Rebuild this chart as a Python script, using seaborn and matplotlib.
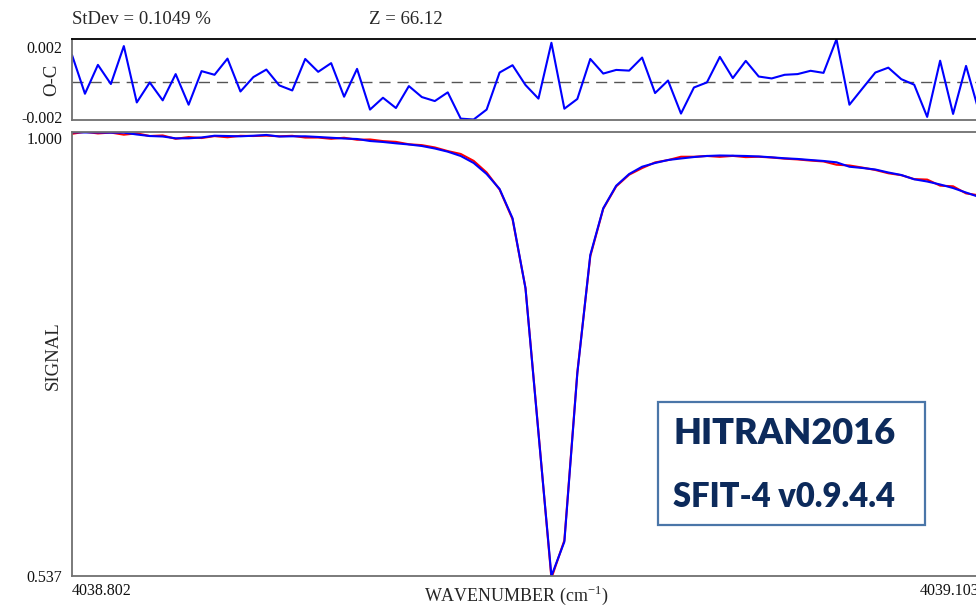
import numpy as np
import pandas as pd
import matplotlib.pyplot as plt
import matplotlib.patches as patches
import seaborn as sns

# spectral window (cm-1), 71 evenly spaced samples
WN_START = 4038.802
WN_END = 4039.103
N_POINTS = 71

# observed signal (blue)
observed = [
    0.9994, 0.9992, 0.9992, 0.9990, 0.9990, 0.9971, 0.9955, 0.9950, 0.9931, 0.9931,
    0.9940, 0.9958, 0.9955, 0.9952, 0.9958, 0.9966, 0.9950, 0.9952, 0.9952, 0.9945,
    0.9937, 0.9929, 0.9924, 0.9903, 0.9893, 0.9879, 0.9867, 0.9851, 0.9825, 0.9792,
    0.9747, 0.9674, 0.9559, 0.9403, 0.9098, 0.8368, 0.6860, 0.5370, 0.5727, 0.7482,
    0.8715, 0.9202, 0.9437, 0.9559, 0.9635, 0.9674, 0.9705, 0.9721, 0.9736, 0.9747,
    0.9752, 0.9750, 0.9747, 0.9742, 0.9733, 0.9723, 0.9716, 0.9705, 0.9695, 0.9681,
    0.9635, 0.9622, 0.9606, 0.9575, 0.9549, 0.9504, 0.9481, 0.9450, 0.9413, 0.9366,
    0.9320,
]

# calculated signal (red)
calculated = [
    0.9978, 0.9999, 0.9982, 0.9991, 0.9969, 0.9983, 0.9955, 0.9961, 0.9926, 0.9944,
    0.9934, 0.9954, 0.9942, 0.9957, 0.9955, 0.9959, 0.9952, 0.9957, 0.9939, 0.9939,
    0.9926, 0.9937, 0.9916, 0.9919, 0.9902, 0.9894, 0.9869, 0.9860, 0.9836, 0.9798,
    0.9768, 0.9696, 0.9575, 0.9398, 0.9088, 0.8370, 0.6870, 0.5347, 0.5742, 0.7492,
    0.8702, 0.9197, 0.9430, 0.9552, 0.9621, 0.9680, 0.9704, 0.9739, 0.9739, 0.9747,
    0.9738, 0.9748, 0.9735, 0.9739, 0.9731, 0.9719, 0.9711, 0.9699, 0.9690, 0.9656,
    0.9648, 0.9626, 0.9601, 0.9567, 0.9547, 0.9506, 0.9501, 0.9438, 0.9431, 0.9357,
    0.9337,
]

# O-C residuals (x 1e-3)
residual_e3 = [
    1.56, -0.67, 0.99, -0.11, 2.07, -1.17, -0.02, -1.05, 0.46, -1.30,
    0.63, 0.42, 1.35, -0.54, 0.29, 0.72, -0.19, -0.48, 1.33, 0.59,
    1.09, -0.84, 0.76, -1.58, -0.90, -1.49, -0.23, -0.86, -1.09, -0.59,
    -2.10, -2.15, -1.58, 0.55, 0.97, -0.17, -0.95, 2.26, -1.53, -0.97,
    1.33, 0.49, 0.70, 0.66, 1.41, -0.63, 0.09, -1.81, -0.31, -0.02,
    1.45, 0.23, 1.22, 0.32, 0.21, 0.42, 0.46, 0.65, 0.53, 2.46,
    -1.30, -0.37, 0.55, 0.83, 0.17, -0.15, -2.00, 1.23, -1.83, 0.93,
    -1.70,
]

stdev_text = "StDev = 0.1049 %"
z_text = "Z = 66.12"
box_lines = ["HITRAN2016", "SFIT-4 v0.9.4.4"]

df = pd.DataFrame({
    "wavenumber": np.linspace(WN_START, WN_END, N_POINTS),
    "observed": observed,
    "calculated": calculated,
    "oc": np.array(residual_e3) * 1e-3,
})

sns.set_style("white")
plt.rcParams['font.family'] = ['Liberation Serif', 'DejaVu Serif']
plt.rcParams['mathtext.fontset'] = 'custom'
plt.rcParams['mathtext.rm'] = 'Liberation Serif'

W, H = 976, 606
fig = plt.figure(figsize=(W / 100, H / 100), dpi=100)

x0, x1 = 72, 979
ax_r = fig.add_axes([x0 / W, 1 - 119.5 / H, (x1 - x0) / W, 80.2 / H])
ax = fig.add_axes([x0 / W, 1 - 576 / H, (x1 - x0) / W, 444.3 / H])

# residual panel
ax_r.axhline(0, color="#555555", lw=1.0, dashes=(8, 5))
sns.lineplot(data=df, x="wavenumber", y="oc", ax=ax_r, color="#0000ff",
             lw=1.5, sort=False, estimator=None)
ax_r.set_xlim(WN_START, WN_END)
ax_r.set_ylim(-0.00215, 0.00246)
ax_r.set_yticks([-0.002, 0.002])
ax_r.set_yticklabels(["-0.002", "0.002"])
ax_r.set_xticks([])
ax_r.set_xlabel("")
ax_r.set_ylabel("O-C", fontsize=13.5)
ax_r.yaxis.set_label_coords(-0.0125, 0.5)

# main spectrum panel
sns.lineplot(data=df, x="wavenumber", y="calculated", ax=ax, color="#ff0000",
             lw=1.5, sort=False, estimator=None)
sns.lineplot(data=df, x="wavenumber", y="observed", ax=ax, color="#0000ff",
             lw=1.5, sort=False, estimator=None)
ax.set_xlim(WN_START, WN_END)
ax.set_ylim(0.537, 1.0)
ax.set_yticks([0.537, 1.0])
ax.set_yticklabels(["0.537", "1.000"])
ax.get_yticklabels()[1].set_verticalalignment("top")
ax.set_xticks([WN_START, WN_END])
ax.set_xticklabels(["4038.802", "4039.103"])
ax.get_xticklabels()[0].set_horizontalalignment("left")
ax.get_xticklabels()[1].set_horizontalalignment("right")
ax.set_ylabel("SIGNAL", fontsize=13.5)
ax.yaxis.set_label_coords(-0.011, 0.497)
ax.set_xlabel("WAVENUMBER (cm$^{\\mathregular{-1}}$)", fontsize=13)
ax.xaxis.set_label_coords(0.49, -0.018)

for a in (ax_r, ax):
    a.tick_params(axis="both", length=0, labelsize=11.5, colors="#111111")
    a.tick_params(axis="y", pad=7)
    a.tick_params(axis="x", pad=5)
    a.spines["right"].set_visible(False)
    for s in ("left", "bottom", "top"):
        a.spines[s].set_color("#707070")
        a.spines[s].set_linewidth(1.3)
ax_r.spines["top"].set_color("#000000")

fig.text(72 / W, 1 - 20 / H, stdev_text, fontsize=13.5, va="center", ha="left")
fig.text(369 / W, 1 - 20 / H, z_text, fontsize=13.5, va="center", ha="left")

# annotation box
box = patches.Rectangle((658 / W, 1 - 525 / H), (925 - 658) / W, (525 - 402) / H,
                        transform=fig.transFigure, fill=False,
                        edgecolor="#4a76a8", lw=1.6)
fig.patches.append(box)
fig.text(673 / W, 1 - 434 / H, box_lines[0], fontsize=26, fontweight="heavy",
         color="#0c2a5b", family=["Lato", "DejaVu Sans"], va="center", ha="left")
fig.text(673 / W, 1 - 497 / H, box_lines[1], fontsize=23.5, fontweight="heavy",
         color="#0c2a5b", family=["Lato", "DejaVu Sans"], va="center", ha="left")

fig.savefig("out.png", dpi=100)
